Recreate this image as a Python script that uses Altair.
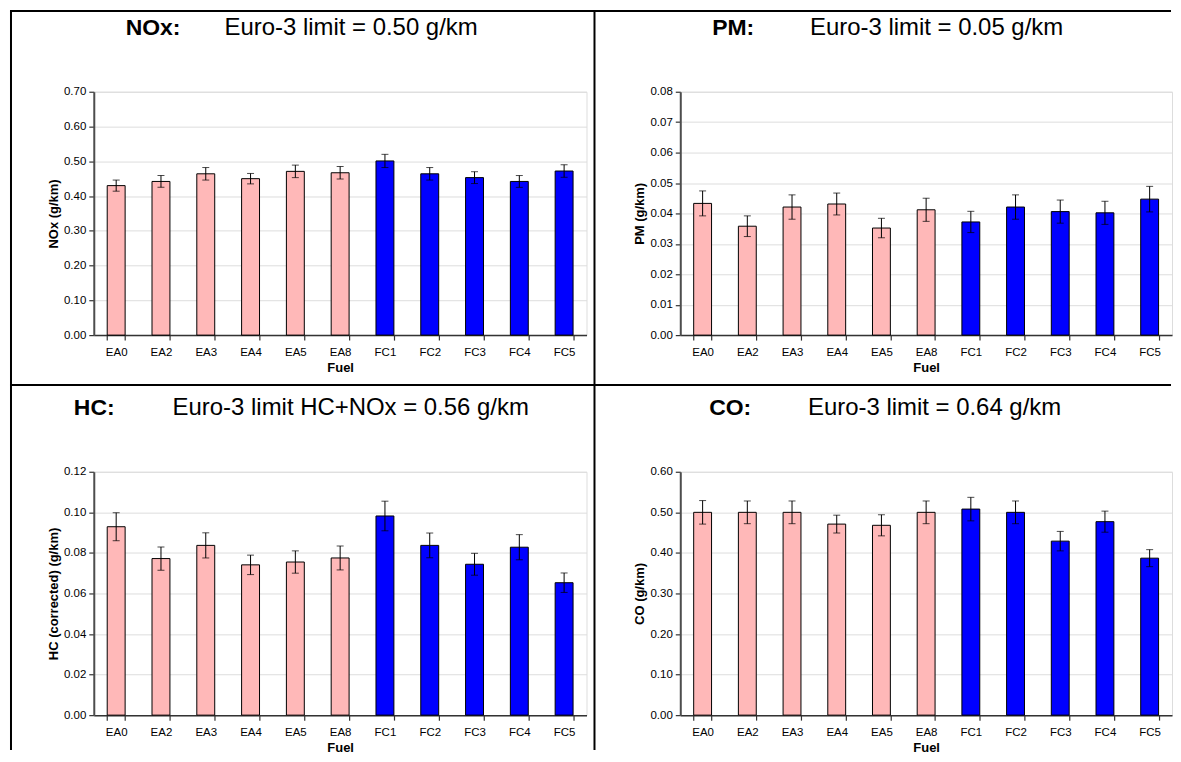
import altair as alt
import pandas as pd

FONT = "Liberation Sans"

fuels = ["EA0", "EA2", "EA3", "EA4", "EA5", "EA8", "FC1", "FC2", "FC3", "FC4", "FC5"]
groups = ["EA", "EA", "EA", "EA", "EA", "EA", "FC", "FC", "FC", "FC", "FC"]

nox = [0.430, 0.442, 0.464, 0.450, 0.471, 0.467, 0.501, 0.464, 0.453, 0.442, 0.472]
nox_err = [0.016, 0.017, 0.018, 0.015, 0.018, 0.018, 0.019, 0.018, 0.017, 0.017, 0.018]
nox_ticks = [0.0, 0.1, 0.2, 0.3, 0.4, 0.5, 0.6, 0.7]

pm = [0.0433, 0.0358, 0.0421, 0.0431, 0.0352, 0.0412, 0.0372, 0.0421, 0.0406, 0.0402, 0.0447]
pm_err = [0.0041, 0.0034, 0.0040, 0.0036, 0.0032, 0.0038, 0.0035, 0.0040, 0.0038, 0.0038, 0.0042]
pm_ticks = [0.0, 0.01, 0.02, 0.03, 0.04, 0.05, 0.06, 0.07, 0.08]

hc = [0.0929, 0.0772, 0.0837, 0.0741, 0.0755, 0.0775, 0.0982, 0.0837, 0.0744, 0.0828, 0.0653]
hc_err = [0.0069, 0.0057, 0.0062, 0.0048, 0.0055, 0.0059, 0.0073, 0.0061, 0.0054, 0.0062, 0.0048]
hc_ticks = [0.0, 0.02, 0.04, 0.06, 0.08, 0.10, 0.12]

co = [0.500, 0.500, 0.500, 0.471, 0.468, 0.500, 0.508, 0.500, 0.429, 0.477, 0.387]
co_err = [0.029, 0.028, 0.028, 0.022, 0.026, 0.028, 0.029, 0.028, 0.024, 0.026, 0.021]
co_ticks = [0.0, 0.1, 0.2, 0.3, 0.4, 0.5, 0.6]

PINK = "#FFB8B8"
BLUE = "#0000FF"


def panel(values, errs, ticks, ytitle, bold, rest, bx, rx, ty, width, extras=()):
    df = pd.DataFrame({
        "fuel": fuels,
        "grp": groups,
        "val": values,
        "lo": [v - e for v, e in zip(values, errs)],
        "hi": [v + e for v, e in zip(values, errs)],
    })
    base = alt.Chart(df)
    xenc = alt.X(
        "fuel:N", sort=fuels,
        scale=alt.Scale(paddingInner=0.6, paddingOuter=0.3),
        axis=alt.Axis(title="Fuel", labelAngle=0, tickBand="extent", tickSize=5,
                      labelPadding=6, titlePadding=4, labelFontSize=11.5,
                      titleFontSize=13, titleFontWeight="bold",
                      domainColor="#333333", domainWidth=1.5,
                      tickColor="#333333", tickWidth=1.2),
    )
    yscale = alt.Scale(domain=[ticks[0], ticks[-1]], nice=False, zero=True)
    yaxis = alt.Axis(title=ytitle, values=ticks, format=".2f", tickSize=5,
                     labelPadding=3, titlePadding=3, labelFontSize=11.5,
                     titleFontSize=13, titleFontWeight="bold",
                     domainColor="#4D4D4D", domainWidth=2,
                     tickColor="#333333", tickWidth=1.2)
    bars = base.mark_bar(stroke="black", strokeWidth=1).encode(
        x=xenc,
        y=alt.Y("val:Q", scale=yscale, axis=yaxis),
        color=alt.Color("grp:N", scale=alt.Scale(domain=["EA", "FC"], range=[PINK, BLUE]),
                        legend=None),
    )
    err = base.mark_rule(color="black", strokeWidth=1).encode(
        x=alt.X("fuel:N", sort=fuels),
        y=alt.Y("lo:Q", scale=yscale, axis=yaxis),
        y2="hi:Q",
    )
    cap_lo = base.mark_tick(color="black", size=7, thickness=1).encode(
        x=alt.X("fuel:N", sort=fuels),
        y=alt.Y("lo:Q", scale=yscale, axis=yaxis),
    )
    cap_hi = base.mark_tick(color="black", size=7, thickness=1).encode(
        x=alt.X("fuel:N", sort=fuels),
        y=alt.Y("hi:Q", scale=yscale, axis=yaxis),
    )
    t_bold = alt.Chart(pd.DataFrame({"t": [bold]})).mark_text(
        align="left", baseline="alphabetic", font=FONT, fontSize=23,
        fontWeight="bold", color="black",
    ).encode(x=alt.value(bx), y=alt.value(ty), text="t:N")
    t_rest = alt.Chart(pd.DataFrame({"t": [rest]})).mark_text(
        align="left", baseline="alphabetic", font=FONT, fontSize=24,
        color="black",
    ).encode(x=alt.value(rx), y=alt.value(ty), text="t:N")
    return alt.layer(bars, err, cap_lo, cap_hi, t_bold, t_rest, *extras).properties(
        width=width, height=244
    )


rule_df = pd.DataFrame({"k": [0]})
frame = alt.Chart(rule_df).mark_rule(color="black", strokeWidth=2)
borders = [
    frame.encode(x=alt.value(-83), y=alt.value(-81), y2=alt.value(660)),
    frame.encode(x=alt.value(-84), x2=alt.value(1080), y=alt.value(-81)),
    frame.encode(x=alt.value(502), y=alt.value(-81), y2=alt.value(660)),
    frame.encode(x=alt.value(-84), x2=alt.value(1080), y=alt.value(294)),
]

p1 = panel(nox, nox_err, nox_ticks, "NOx (g/km)", "NOx:", "Euro-3 limit = 0.50 g/km",
           32, 131, -57, 494, borders)
p2 = panel(pm, pm_err, pm_ticks, "PM (g/km)", "PM:", "Euro-3 limit = 0.05 g/km",
           32, 130, -57, 493)
p3 = panel(hc, hc_err, hc_ticks, "HC (corrected) (g/km)", "HC:",
           "Euro-3 limit HC+NOx = 0.56 g/km", -20, 79, -57, 494)
p4 = panel(co, co_err, co_ticks, "CO (g/km)", "CO:", "Euro-3 limit  = 0.64 g/km",
           29, 128, -57, 493)

chart = alt.concat(
    p1, p2, p3, p4, columns=2,
    spacing={"row": 137, "column": 94}, bounds="flush",
).properties(padding=0).configure_view(
    stroke="#A6A6A6", strokeWidth=1.5
).configure_axis(
    grid=False, labelFont=FONT, titleFont=FONT, labelColor="#1A1A1A", titleColor="black"
).configure(background="white")

chart.save("out.html", embed_options={"renderer": "svg", "actions": False})
